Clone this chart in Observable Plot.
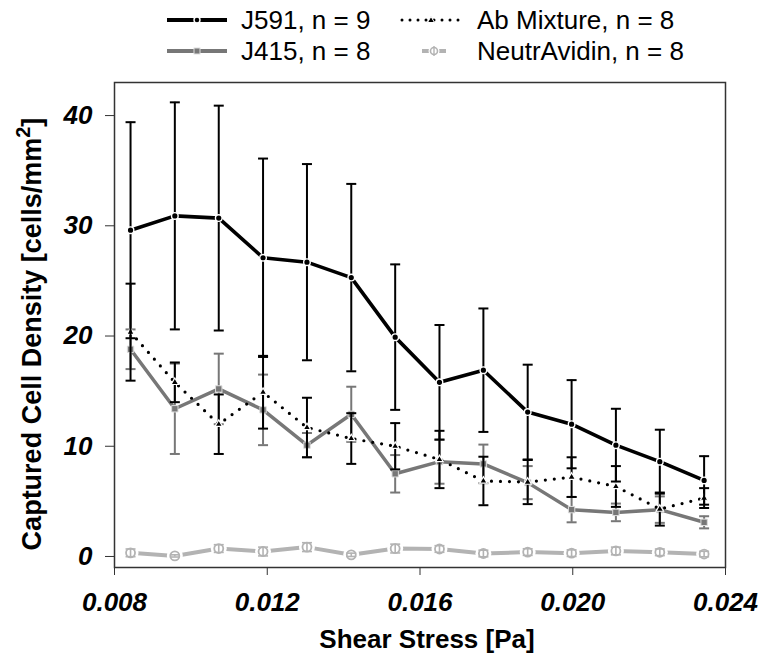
<!DOCTYPE html>
<html><head><meta charset="utf-8">
<script src="https://cdn.jsdelivr.net/npm/d3@7"></script>
<script src="https://cdn.jsdelivr.net/npm/@observablehq/plot@0.6"></script>
<style>
body{margin:0;background:#fff;font-family:'Liberation Sans',Arial,sans-serif;}
#legend{position:relative;width:767px;height:68px;}
.item{position:absolute;font-size:26px;line-height:26px;color:#000;white-space:nowrap;}
.sample{position:absolute;overflow:visible;}
</style></head><body>
<div id="legend"></div>
<div id="chart"></div>
<script>
// Shear stress (Pa) at each measurement
const stress = [0.00842, 0.00958, 0.01073, 0.01189, 0.01304, 0.0142, 0.01535, 0.01651, 0.01766, 0.01882, 0.01997, 0.02113, 0.02228, 0.02344];
// Captured cell density (cells/mm^2) and error
const j591Mean = [29.6, 30.9, 30.7, 27.1, 26.7, 25.3, 19.9, 15.8, 16.9, 13.1, 12.0, 10.1, 8.6, 6.9];
const j591Err  = [9.8, 10.3, 10.2, 9.0, 8.9, 8.5, 6.6, 5.2, 5.6, 4.3, 4.0, 3.3, 2.9, 2.2];
const j415Mean = [18.8, 13.4, 15.2, 13.3, 10.1, 12.9, 7.5, 8.6, 8.4, 6.7, 4.25, 4.0, 4.25, 3.1];
const j415Err  = [1.8, 4.1, 3.2, 3.2, 1.1, 2.5, 1.7, 2.0, 1.75, 1.5, 1.15, 0.8, 1.2, 0.55];
const abMean   = [20.35, 15.8, 12.0, 14.9, 11.7, 10.7, 10.0, 8.8, 6.85, 6.75, 7.2, 6.35, 4.3, 5.3];
const abErr    = [4.4, 1.8, 2.7, 3.3, 2.7, 2.3, 2.1, 2.6, 2.2, 2.0, 1.8, 1.85, 1.5, 0.9];
const naMean   = [0.33, 0.05, 0.72, 0.45, 0.85, 0.15, 0.72, 0.68, 0.27, 0.4, 0.3, 0.5, 0.38, 0.22];
const naErr    = [0.35, 0.1, 0.35, 0.4, 0.4, 0.15, 0.4, 0.3, 0.3, 0.3, 0.3, 0.35, 0.3, 0.25];
const seriesNames = ["J591, n = 9", "J415, n = 8", "Ab Mixture, n = 8", "NeutrAvidin, n = 8"];
const xTicks = [0.008, 0.012, 0.016, 0.020, 0.024];
const yTicks = [0, 10, 20, 30, 40];
const xTitle = "Shear Stress [Pa]";
const yTitle = "Captured Cell Density [cells/mm";

const rows = (mean, err) => stress.map((x, i) => ({x, y: mean[i], lo: mean[i] - err[i], hi: mean[i] + err[i]}));
const j591 = rows(j591Mean, j591Err);
const j415 = rows(j415Mean, j415Err);
const ab = rows(abMean, abErr);
const na = rows(naMean, naErr);

const cap = {draw(ctx) { ctx.moveTo(-5, 0); ctx.lineTo(5, 0); }};

const C = {j591: "#000", j415: "#777", ab: "#000", na: "#b3b3b3"};

function bars(data, color, w = 2) {
  return [
    Plot.ruleX(data, {x: "x", y1: "lo", y2: "hi", stroke: color, strokeWidth: w}),
    Plot.dot(data, {x: "x", y: "lo", symbol: cap, stroke: color, strokeWidth: w, fill: "none"}),
    Plot.dot(data, {x: "x", y: "hi", symbol: cap, stroke: color, strokeWidth: w, fill: "none"})
  ];
}

const chart = Plot.plot({
  width: 767, height: 593,
  marginTop: 14, marginBottom: 94, marginLeft: 114, marginRight: 42,
  style: {background: "white", fontFamily: "'Liberation Sans', Arial, sans-serif", fontSize: "26px", overflow: "visible"},
  x: {domain: [0.008, 0.024]},
  y: {domain: [-1, 43]},
  marks: [
    // NeutrAvidin
    Plot.line(na, {x: "x", y: "y", stroke: C.na, strokeWidth: 4}),
    Plot.dot(na, {x: "x", y: "y", r: 8, fill: "white", stroke: "none"}),
    ...bars(na, C.na, 1.6),
    Plot.dot(na, {x: "x", y: "y", r: 4.5, fill: "none", stroke: C.na, strokeWidth: 1.8}),
    // J415
    ...bars(j415, C.j415),
    Plot.line(j415, {x: "x", y: "y", stroke: C.j415, strokeWidth: 3.5}),
    Plot.dot(j415, {x: "x", y: "y", symbol: "square", r: 3.6, fill: "#777", stroke: "#ddd", strokeWidth: 1}),
    // Ab mixture
    ...bars(ab, C.ab),
    Plot.line(ab, {x: "x", y: "y", stroke: C.ab, strokeWidth: 3.2, strokeDasharray: "0,9", strokeLinecap: "round"}),
    Plot.dot(ab, {x: "x", y: "y", symbol: "triangle", r: 2.8, fill: "#000", stroke: "white", strokeWidth: 1.2}),
    // J591
    ...bars(j591, C.j591),
    Plot.line(j591, {x: "x", y: "y", stroke: C.j591, strokeWidth: 3.6}),
    Plot.dot(j591, {x: "x", y: "y", r: 3.3, fill: "#000", stroke: "white", strokeWidth: 1.4}),
    Plot.frame({stroke: "#333", strokeWidth: 1.5}),
    Plot.axisX(xTicks, {tickFormat: d3.format(".3f"), tickSize: 8, tickPadding: 17, label: null,
      fontSize: 26, fontWeight: "bold", fontStyle: "italic", stroke: "#333"}),
    Plot.axisY(yTicks, {tickSize: 9, tickPadding: 13, label: null,
      fontSize: 26, fontWeight: "bold", fontStyle: "italic", stroke: "#333"})
  ]
});
document.getElementById("chart").appendChild(chart);
const svgEl = chart.tagName.toLowerCase() === "svg" ? chart : chart.querySelector("svg");
const svg = d3.select(svgEl);

// Axis titles
svg.append("text")
  .attr("x", 427).attr("y", 580).attr("text-anchor", "middle")
  .style("font-size", "26px").style("font-weight", "bold").style("font-style", "normal")
  .attr("fill", "#000").text(xTitle);
const yt = svg.append("text")
  .attr("transform", "translate(41,266) rotate(-90)").attr("text-anchor", "middle")
  .style("font-size", "27px").style("font-weight", "bold").style("font-style", "normal").attr("fill", "#000");
yt.append("tspan").text(yTitle);
yt.append("tspan").attr("dy", -11).style("font-size", "20px").text("2");
yt.append("tspan").attr("dy", 11).text("]");

// Legend
const legend = d3.select("#legend");
const items = [
  {name: seriesNames[0], kind: "j591", sx: 167, sw: 60, tx: 241, cy: 20},
  {name: seriesNames[2], kind: "ab", sx: 401, sw: 60, tx: 477, cy: 20},
  {name: seriesNames[1], kind: "j415", sx: 167, sw: 60, tx: 241, cy: 51},
  {name: seriesNames[3], kind: "na", sx: 422, sw: 24, tx: 477, cy: 51}
];
for (const it of items) {
  const s = legend.append("svg").attr("class", "sample")
    .style("left", it.sx + "px").style("top", (it.cy - 10) + "px")
    .attr("width", it.sw).attr("height", 20);
  const m = it.sw / 2;
  if (it.kind === "j591") {
    s.append("line").attr("x1", 0).attr("x2", it.sw).attr("y1", 10).attr("y2", 10).attr("stroke", "#000").attr("stroke-width", 4);
    s.append("circle").attr("cx", m).attr("cy", 10).attr("r", 3).attr("fill", "#000").attr("stroke", "white").attr("stroke-width", 1.4);
  } else if (it.kind === "j415") {
    s.append("line").attr("x1", 0).attr("x2", it.sw).attr("y1", 10).attr("y2", 10).attr("stroke", "#777").attr("stroke-width", 4);
    s.append("rect").attr("x", m - 3).attr("y", 7).attr("width", 6).attr("height", 6).attr("fill", "#777").attr("stroke", "#ddd").attr("stroke-width", 1);
  } else if (it.kind === "ab") {
    s.append("line").attr("x1", 1).attr("x2", it.sw).attr("y1", 10).attr("y2", 10).attr("stroke", "#000").attr("stroke-width", 3).attr("stroke-dasharray", "0,8").attr("stroke-linecap", "round");
    s.append("path").attr("d", `M${m},6.5L${m + 3.5},12.5L${m - 3.5},12.5Z`).attr("fill", "#000").attr("stroke", "white").attr("stroke-width", 1);
  } else {
    s.append("line").attr("x1", 0).attr("x2", it.sw).attr("y1", 10).attr("y2", 10).attr("stroke", C.na).attr("stroke-width", 4);
    s.append("circle").attr("cx", m).attr("cy", 10).attr("r", 5.5).attr("fill", "white");
    s.append("circle").attr("cx", m).attr("cy", 10).attr("r", 3.5).attr("fill", "none").attr("stroke", C.na).attr("stroke-width", 1.6);
    s.append("line").attr("x1", m).attr("x2", m).attr("y1", 5).attr("y2", 15).attr("stroke", C.na).attr("stroke-width", 1.4);
  }
  legend.append("div").attr("class", "item")
    .style("left", it.tx + "px").style("top", (it.cy - 13) + "px").text(it.name);
}
</script>
</body></html>
